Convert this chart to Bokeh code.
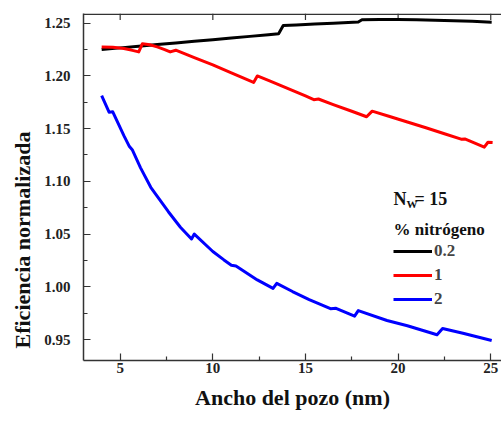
from bokeh.plotting import figure
from bokeh.models import FixedTicker, Range1d, Legend, LegendItem, Label, Title, Span
from bokeh.embed import file_html
from bokeh.resources import INLINE

# ---- data ----
x_black = [4.0, 5.0, 6.0, 7.0, 8.0, 9.0, 10.0, 11.0, 12.0, 13.0, 13.55, 13.8, 14.5, 15.5,
           16.5, 17.85, 18.05, 19.0, 20.0, 21.0, 22.0, 23.0, 24.0, 25.05]
y_black = [1.2250, 1.2266, 1.2281, 1.2297, 1.2313, 1.2329, 1.2344, 1.2360, 1.2375, 1.2390,
           1.2400, 1.2478, 1.2484, 1.2492, 1.2500, 1.2512, 1.2533, 1.2535, 1.2534, 1.2532,
           1.2528, 1.2524, 1.2518, 1.2510]

x_red = [4.0, 4.6, 5.2, 5.6, 6.0, 6.2, 6.6, 7.0, 7.4, 7.7, 8.0, 9.0, 10.0, 11.0, 12.2, 12.4,
         13.0, 14.0, 15.0, 15.45, 15.7, 16.5, 17.5, 18.3, 18.6, 19.5, 20.5, 21.5, 22.5, 23.4,
         23.6, 24.65, 24.85, 25.1]
y_red = [1.2275, 1.2272, 1.2260, 1.2245, 1.2228, 1.2306, 1.2296, 1.2275, 1.2250, 1.2228,
         1.2244, 1.2174, 1.2105, 1.2030, 1.1938, 1.2000, 1.1958, 1.1885, 1.1810, 1.1775,
         1.1781, 1.1728, 1.1665, 1.1613, 1.1666, 1.1618, 1.1563, 1.1508, 1.1452, 1.1400,
         1.1402, 1.1324, 1.1371, 1.1368]

x_blue = [4.0, 4.4, 4.6, 5.2, 5.5, 5.65, 6.1, 6.65, 7.1, 7.6, 8.25, 8.85, 9.0, 10.0, 10.6,
          11.0, 11.25, 12.4, 13.25, 13.45, 14.3, 15.2, 16.35, 16.65, 17.65, 17.85, 19.4,
          20.5, 22.1, 22.4, 23.5, 25.05]
y_blue = [1.1814, 1.1656, 1.1660, 1.1434, 1.1330, 1.1300, 1.1128, 1.0944, 1.0834, 1.0712,
          1.0565, 1.0454, 1.0500, 1.0335, 1.0255, 1.0205, 1.0198, 1.0065, 0.9985, 1.0033,
          0.9955, 0.9879, 0.9792, 0.9796, 0.9722, 0.9774, 0.9680, 0.9630, 0.9545, 0.9604,
          0.9560, 0.9490]

series_labels = ["0.2", "1", "2"]
series_colors = ["#000000", "#ff0000", "#0000ff"]

x_ticks = [5, 10, 15, 20, 25]
x_tick_labels = ["5", "10", "15", "20", "25"]
x_minor = [7.5, 12.5, 17.5, 22.5]
y_ticks = [0.95, 1.00, 1.05, 1.10, 1.15, 1.20, 1.25]
y_tick_labels = ["0.95", "1.00", "1.05", "1.10", "1.15", "1.20", "1.25"]
y_minor = [0.975, 1.025, 1.075, 1.125, 1.175, 1.225]

FONT = "'Liberation Serif', serif"
AX = "#333333"
Y_TOP = 1.2592

p = figure(width=501, height=425, output_backend="svg", toolbar_location=None,
           x_range=Range1d(3.02, 25.58), y_range=Range1d(0.9301, Y_TOP),
           min_border_left=83, min_border_right=0, min_border_top=13, min_border_bottom=65)
p.outline_line_color = None
p.xgrid.visible = False
p.ygrid.visible = False
p.background_fill_color = "white"

bottom = p.below[0]
left = p.left[0]

bottom.ticker = FixedTicker(ticks=x_ticks, minor_ticks=x_minor)
bottom.major_label_overrides = dict(zip(x_ticks, x_tick_labels))
left.ticker = FixedTicker(ticks=y_ticks, minor_ticks=y_minor)
left.major_label_overrides = dict(zip(y_ticks, y_tick_labels))

for ax in [bottom, left]:
    ax.axis_line_color = AX
    ax.axis_line_width = 1.5
    ax.major_tick_line_color = AX
    ax.major_tick_line_width = 1.2
    ax.minor_tick_line_color = AX
    ax.minor_tick_line_width = 1.2
    ax.major_tick_in = 7
    ax.major_tick_out = 0
    ax.minor_tick_in = 4
    ax.minor_tick_out = 0
    ax.major_label_text_font = FONT
    ax.major_label_text_font_style = "bold"
    ax.major_label_text_font_size = "15px"
    ax.major_label_text_color = "#222222"

bottom.major_label_standoff = 2
left.major_label_standoff = 13
bottom.axis_label = "Ancho del pozo (nm)"
bottom.axis_label_text_font = FONT
bottom.axis_label_text_font_style = "bold"
bottom.axis_label_text_font_size = "22px"
bottom.axis_label_text_color = "#111111"
bottom.axis_label_standoff = 9

ytitle = Title(text="Eficiencia normalizada", align="left", offset=12, standoff=13,
               text_font=FONT, text_font_style="bold", text_font_size="22px",
               text_color="#111111")
p.add_layout(ytitle, "left")

# top frame edge with inward major ticks
p.add_layout(Span(location=Y_TOP - 0.0007, dimension="width", line_color=AX, line_width=1.5))
p.segment(x0=x_ticks, x1=x_ticks, y0=[Y_TOP] * len(x_ticks), y1=[Y_TOP - 0.0062] * len(x_ticks),
          line_color=AX, line_width=1.2)

renderers = []
for xs, ys, c in [(x_black, y_black, series_colors[0]),
                  (x_red, y_red, series_colors[1]),
                  (x_blue, y_blue, series_colors[2])]:
    r = p.line(xs, ys, line_color=c, line_width=3, line_join="round")
    renderers.append(r)

legend = Legend(items=[LegendItem(label=lab, renderers=[r]) for lab, r in zip(series_labels, renderers)],
                location=(310, 51), padding=0, margin=0, spacing=4,
                glyph_width=39, glyph_height=20, label_height=20, label_standoff=2,
                label_text_font=FONT, label_text_font_style="bold", label_text_font_size="17px",
                border_line_color=None, background_fill_alpha=0)
p.add_layout(legend)

def lab(text, x, y, size, **kw):
    p.add_layout(Label(x=x, y=y, x_units="screen", y_units="screen", text=text,
                       text_font=FONT, text_font_style="bold", text_font_size=size,
                       text_color="#111111", **kw))

lab("N", 310, 162, "18px", text_baseline="alphabetic")
lab("W", 323, 157, "11px", text_baseline="alphabetic")
lab("= 15", 331, 162, "18px", text_baseline="alphabetic")
lab("% nitrógeno", 310, 131, "17px", text_baseline="alphabetic")

open("out.html", "w").write(file_html(p, INLINE))
